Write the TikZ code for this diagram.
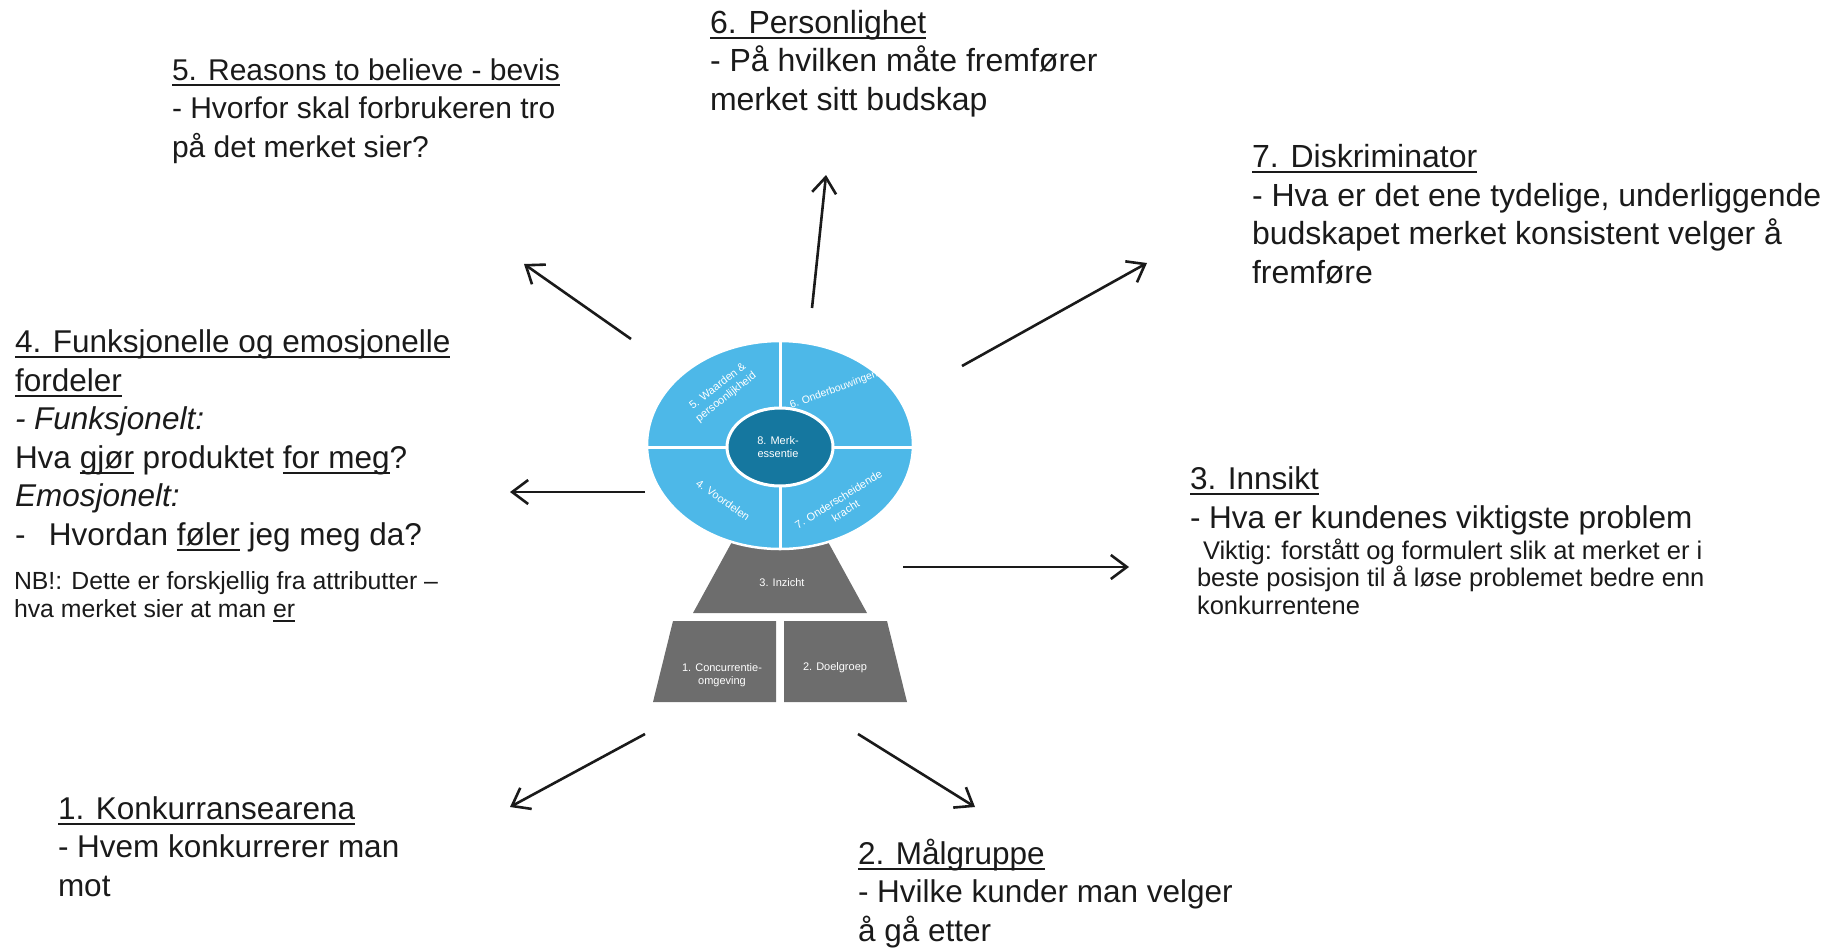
\documentclass[tikz,border=0pt]{standalone}
\usepackage{fontspec}
\setmainfont{Liberation Sans}
\usetikzlibrary{arrows.meta}
\newcommand{\myul}[1]{\setbox0=\hbox{#1}\rlap{\rule[-5.5pt]{\wd0}{2pt}}\box0\relax}
\newcommand{\myuls}[1]{\setbox0=\hbox{#1}\rlap{\rule[-4.5pt]{\wd0}{1.6pt}}\box0\relax}
\definecolor{ink}{HTML}{1A1A1A}
\definecolor{lightblue}{HTML}{4DB8E8}
\definecolor{darkblue}{HTML}{15779F}
\definecolor{pyrgray}{HTML}{6D6D6D}
\begin{document}
\begin{tikzpicture}[x=1pt,y=-1pt,
  bigtext/.style={anchor=base west, inner sep=0pt, outer sep=0pt, align=left,
    font=\fontsize{31.5}{38.5}\selectfont, text=ink},
  smalltext/.style={anchor=base west, inner sep=0pt, outer sep=0pt, align=left,
    font=\fontsize{25.5}{27.5}\selectfont, text=ink},
  link/.style={draw=ink, line width=2.6pt, -{Straight Barb[length=16pt,width=24pt]}},
  imgtext/.style={text=white, font=\fontsize{11}{13.5}\selectfont, align=center, inner sep=0pt},
  divider/.style={draw=white, line width=3pt}
]
\useasboundingbox (0,0) rectangle (1835,948);

% ---------- central brand key picture ----------
\fill[pyrgray] (733,540) -- (827,540) -- (867,613) -- (693,613) -- cycle;
\fill[pyrgray] (673,621) -- (776,621) -- (776,702) -- (653,702) -- cycle;
\fill[pyrgray] (784,621) -- (887,621) -- (907,702) -- (784,702) -- cycle;
\filldraw[fill=lightblue, draw=white, line width=2.5pt] (780,445) ellipse [x radius=133, y radius=104];
\begin{scope}
  \clip (780,445) ellipse [x radius=132, y radius=103];
  \draw[divider] (780,330) -- (780,560);
  \draw[divider] (640,447) -- (925,447);
\end{scope}
\filldraw[fill=darkblue, draw=white, line width=3pt] (780,447) ellipse [x radius=53, y radius=39];

\node[imgtext] (essence) at (778,447) {8. Merk-\\essentie};
\node[imgtext, rotate=38] (values) at (722,392) {5. Waarden \&\\persoonlijkheid};
\node[imgtext, rotate=20, font=\fontsize{10.5}{13}\selectfont] (support) at (834,390) {6. Onderbouwingen};
\node[imgtext, rotate=-35] (benefits) at (723,500) {4. Voordelen};
\node[imgtext, rotate=32] (discr) at (842,505) {7. Onderscheidende\\kracht};
\node[imgtext] (insight) at (782,583) {3. Inzicht};
\node[imgtext] (compet) at (722,675) {1. Concurrentie-\\omgeving};
\node[imgtext] (target) at (835,668) {2. Doelgroep};

% ---------- text blocks (anchor = baseline of the last line) ----------
\node[bigtext, font=\fontsize{32}{38.5}\selectfont] (t6) at (710,110) {\myul{6. Personlighet}\\- På hvilken måte fremfører\\merket sitt budskap};
\node[bigtext, font=\fontsize{30}{38.5}\selectfont] (t5) at (172,157) {\myul{5. Reasons to believe - bevis}\\- Hvorfor skal forbrukeren tro\\på det merket sier?};
\node[bigtext, font=\fontsize{32}{38.5}\selectfont] (t7) at (1252,283) {\myul{7. Diskriminator}\\- Hva er det ene tydelige, underliggende\\budskapet merket konsistent velger å\\fremføre};
\node[bigtext] (t4) at (15,545) {\myul{4. Funksjonelle og emosjonelle}\\\myul{fordeler}\\\textit{- Funksjonelt:}\\Hva \myul{gjør} produktet \myul{for meg}?\\\textit{Emosjonelt:}\\\makebox[34pt][l]{-}Hvordan \myul{føler} jeg meg da?};
\node[smalltext, font=\fontsize{24.8}{27.5}\selectfont] (nb) at (14,617) {NB!: Dette er forskjellig fra attributter –\\hva merket sier at man \myuls{er}};
\node[bigtext] (t3) at (1190,528) {\myul{3. Innsikt}\\- Hva er kundenes viktigste problem};
\node[smalltext] (t3note) at (1197,614) {\hspace{6pt}Viktig: forstått og formulert slik at merket er i\\beste posisjon til å løse problemet bedre enn\\konkurrentene};
\node[bigtext] (t1) at (58,896) {\myul{1. Konkurransearena}\\- Hvem konkurrerer man\\mot};
\node[bigtext] (t2) at (858,941) {\myul{2. Målgruppe}\\- Hvilke kunder man velger\\å gå etter};

% ---------- connectors ----------
\coordinate (s5) at (631,339); \coordinate (e5) at (524,264);
\coordinate (s6) at (812,308); \coordinate (e6) at (826,175);
\coordinate (s7) at (962,366); \coordinate (e7) at (1147,263);
\coordinate (s4) at (645,492); \coordinate (e4) at (510,492);
\coordinate (s3) at (903,567); \coordinate (e3) at (1129,567);
\coordinate (s1) at (645,734); \coordinate (e1) at (510,807);
\coordinate (s2) at (858,734); \coordinate (e2) at (975,807);
\draw[link] (s5) -- (e5);
\draw[link] (s6) -- (e6);
\draw[link] (s7) -- (e7);
\draw[link] (s4) -- (e4);
\draw[link] (s3) -- (e3);
\draw[link] (s1) -- (e1);
\draw[link] (s2) -- (e2);
\end{tikzpicture}
\end{document}
